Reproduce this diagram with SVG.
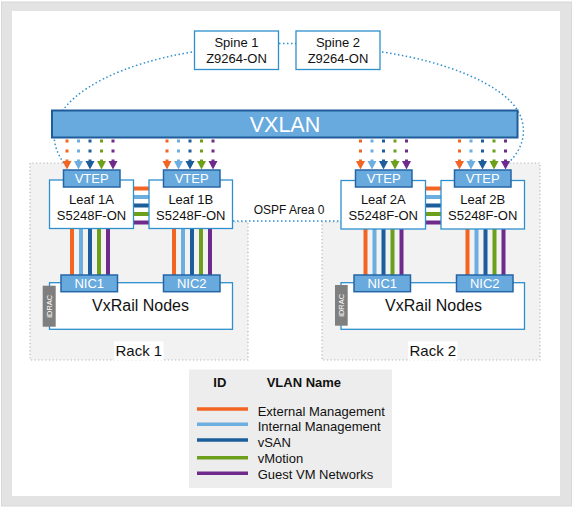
<svg xmlns="http://www.w3.org/2000/svg" xmlns:xlink="http://www.w3.org/1999/xlink" width="577" height="509" viewBox="0 0 577 509">
<style>
text{font-family:"Liberation Sans",Arial,sans-serif;fill:#111}
.o{stroke:#f26522;fill:#f26522}
.lb{stroke:#6caee0;fill:#6caee0}
.db{stroke:#1b5e9b;fill:#1b5e9b}
.g{stroke:#6c9f1a;fill:#6c9f1a}
.p{stroke:#6e2b8c;fill:#6e2b8c}
.dots line{stroke-width:3;stroke-dasharray:3 7}
g.heads use{stroke:none}
.link line{stroke-width:4}
.box{fill:#fff;stroke:#2f8fcd;stroke-width:1.3}
.vtep{fill:#68aadd;stroke:#2565a5;stroke-width:1.5}
.wt{fill:#fff;font-size:13px;text-anchor:middle}
.bt{font-size:13px;text-anchor:middle}
.ospf{fill:none;stroke:#2f8fcd;stroke-width:1.5;stroke-dasharray:1.5 2.5}
.rackfill{fill:#f2f2f2;stroke:none}
.rackedge{fill:none;stroke:#b5b5b5;stroke-width:1.2;stroke-dasharray:1.2 2.4}
.idrac{fill:#7f7f7f}
.idt{fill:#fff;font-size:7.5px;text-anchor:middle}
.leg line{stroke-width:3.5}
.legt{font-size:13px}
</style>
<defs>
<path id="ah" d="M-4.5,0 L4.5,0 L0,8.5 Z"/>
</defs>

<!-- frame -->
<rect x="1.5" y="2" width="570" height="504" fill="#e3e3e3" stroke="#d8d8d8" stroke-width="1"/>
<rect x="12" y="11" width="548" height="485" fill="#fff"/>

<!-- racks -->
<g id="rack1">
<path class="rackfill" d="M30,163 H66 V222 H248 V360 H30 Z"/>
<path class="rackedge" d="M66,163 H30 V360 H248 V222 H232"/>
</g>
<g id="rack2">
<path class="rackfill" d="M322,222 H506 V163 H540 V360 H322 Z"/>
<path class="rackedge" d="M341,222 H322 V360 H540 V163 H506"/>
</g>

<!-- connectors -->
<g id="connectors">
<path class="ospf" d="M192,52 C120,64 72,90 58,118 C50,135 55,152 66,166"/>
<path class="ospf" d="M382,52 C450,62 500,85 516,108 C528,125 526,148 506,165"/>
<line class="ospf" x1="279" y1="43.5" x2="296" y2="43.5"/>
<line class="ospf" x1="233" y1="221" x2="341" y2="221"/>

<g class="dots">
<line class="o" x1="67" y1="139.5" x2="67" y2="162"/>
<line class="lb" x1="78.5" y1="139.5" x2="78.5" y2="162"/>
<line class="db" x1="90" y1="139.5" x2="90" y2="162"/>
<line class="g" x1="101.5" y1="139.5" x2="101.5" y2="162"/>
<line class="p" x1="113" y1="139.5" x2="113" y2="162"/>
<line class="o" x1="167" y1="139.5" x2="167" y2="162"/>
<line class="lb" x1="178.5" y1="139.5" x2="178.5" y2="162"/>
<line class="db" x1="190" y1="139.5" x2="190" y2="162"/>
<line class="g" x1="201.5" y1="139.5" x2="201.5" y2="162"/>
<line class="p" x1="213" y1="139.5" x2="213" y2="162"/>
<line class="o" x1="360.5" y1="139.5" x2="360.5" y2="162"/>
<line class="lb" x1="372" y1="139.5" x2="372" y2="162"/>
<line class="db" x1="383.5" y1="139.5" x2="383.5" y2="162"/>
<line class="g" x1="395" y1="139.5" x2="395" y2="162"/>
<line class="p" x1="406.5" y1="139.5" x2="406.5" y2="162"/>
<line class="o" x1="459.5" y1="139.5" x2="459.5" y2="162"/>
<line class="lb" x1="471" y1="139.5" x2="471" y2="162"/>
<line class="db" x1="482.5" y1="139.5" x2="482.5" y2="162"/>
<line class="g" x1="494" y1="139.5" x2="494" y2="162"/>
<line class="p" x1="505.5" y1="139.5" x2="505.5" y2="162"/>
</g>
<g class="heads">
<use href="#ah" class="o" x="67" y="161"/>
<use href="#ah" class="lb" x="78.5" y="161"/>
<use href="#ah" class="db" x="90" y="161"/>
<use href="#ah" class="g" x="101.5" y="161"/>
<use href="#ah" class="p" x="113" y="161"/>
<use href="#ah" class="o" x="167" y="161"/>
<use href="#ah" class="lb" x="178.5" y="161"/>
<use href="#ah" class="db" x="190" y="161"/>
<use href="#ah" class="g" x="201.5" y="161"/>
<use href="#ah" class="p" x="213" y="161"/>
<use href="#ah" class="o" x="360.5" y="161"/>
<use href="#ah" class="lb" x="372" y="161"/>
<use href="#ah" class="db" x="383.5" y="161"/>
<use href="#ah" class="g" x="395" y="161"/>
<use href="#ah" class="p" x="406.5" y="161"/>
<use href="#ah" class="o" x="459.5" y="161"/>
<use href="#ah" class="lb" x="471" y="161"/>
<use href="#ah" class="db" x="482.5" y="161"/>
<use href="#ah" class="g" x="494" y="161"/>
<use href="#ah" class="p" x="505.5" y="161"/>
</g>

<g class="link">
<!-- inter-leaf -->
<line class="o" x1="133" y1="188.5" x2="149" y2="188.5"/>
<line class="lb" x1="133" y1="197" x2="149" y2="197"/>
<line class="db" x1="133" y1="205.5" x2="149" y2="205.5"/>
<line class="g" x1="133" y1="214" x2="149" y2="214"/>
<line class="p" x1="133" y1="222.5" x2="149" y2="222.5"/>
<line class="o" x1="425" y1="188.5" x2="441" y2="188.5"/>
<line class="lb" x1="425" y1="197" x2="441" y2="197"/>
<line class="db" x1="425" y1="205.5" x2="441" y2="205.5"/>
<line class="g" x1="425" y1="214" x2="441" y2="214"/>
<line class="p" x1="425" y1="222.5" x2="441" y2="222.5"/>
<!-- leaf to NIC -->
<line class="o" x1="72" y1="228" x2="72" y2="276"/>
<line class="lb" x1="81" y1="228" x2="81" y2="276"/>
<line class="db" x1="90" y1="228" x2="90" y2="276"/>
<line class="g" x1="99" y1="228" x2="99" y2="276"/>
<line class="p" x1="108" y1="228" x2="108" y2="276"/>
<line class="o" x1="174" y1="228" x2="174" y2="276"/>
<line class="lb" x1="183" y1="228" x2="183" y2="276"/>
<line class="db" x1="192" y1="228" x2="192" y2="276"/>
<line class="g" x1="201" y1="228" x2="201" y2="276"/>
<line class="p" x1="210" y1="228" x2="210" y2="276"/>
<line class="o" x1="365.5" y1="228" x2="365.5" y2="276"/>
<line class="lb" x1="374.5" y1="228" x2="374.5" y2="276"/>
<line class="db" x1="383.5" y1="228" x2="383.5" y2="276"/>
<line class="g" x1="392.5" y1="228" x2="392.5" y2="276"/>
<line class="p" x1="401.5" y1="228" x2="401.5" y2="276"/>
<line class="o" x1="467.5" y1="228" x2="467.5" y2="276"/>
<line class="lb" x1="476.5" y1="228" x2="476.5" y2="276"/>
<line class="db" x1="485.5" y1="228" x2="485.5" y2="276"/>
<line class="g" x1="494.5" y1="228" x2="494.5" y2="276"/>
<line class="p" x1="503.5" y1="228" x2="503.5" y2="276"/>
</g>
</g>

<!-- spines -->
<g id="spine1">
<rect class="box" x="194.5" y="31" width="84" height="38.5"/>
<text class="bt" x="236.5" y="47">Spine 1</text>
<text class="bt" x="236.5" y="62.5">Z9264-ON</text>
</g>
<g id="spine2">
<rect class="box" x="296" y="31" width="84" height="38.5"/>
<text class="bt" x="338" y="47">Spine 2</text>
<text class="bt" x="338" y="62.5">Z9264-ON</text>
</g>

<g id="vxlan">
<rect x="52" y="110.5" width="465.5" height="27" fill="#68aadd" stroke="#1f5d9a" stroke-width="2"/>
<text x="285" y="131.5" style="fill:#fff;font-size:21.5px;text-anchor:middle">VXLAN</text>
</g>

<text x="289" y="213.5" style="font-size:12px;text-anchor:middle">OSPF Area 0</text>

<!-- leaves -->
<g id="leaf1a">
<rect class="box" x="49.5" y="180" width="84" height="48.5"/>
<rect class="vtep" x="63.5" y="170" width="56.5" height="17"/>
<text class="wt" x="91.7" y="183">VTEP</text>
<text class="bt" x="91.5" y="204">Leaf 1A</text>
<text class="bt" x="91.5" y="219.5">S5248F-ON</text>
</g>
<g id="leaf1b">
<rect class="box" x="149" y="180" width="83.5" height="48.5"/>
<rect class="vtep" x="163.5" y="170" width="56.5" height="17"/>
<text class="wt" x="191.7" y="183">VTEP</text>
<text class="bt" x="190.8" y="204">Leaf 1B</text>
<text class="bt" x="190.8" y="219.5">S5248F-ON</text>
</g>
<g id="leaf2a">
<rect class="box" x="341" y="180.5" width="84.5" height="48.5"/>
<rect class="vtep" x="355.5" y="170" width="56.5" height="17"/>
<text class="wt" x="383.7" y="183">VTEP</text>
<text class="bt" x="383.3" y="204">Leaf 2A</text>
<text class="bt" x="383.3" y="219.5">S5248F-ON</text>
</g>
<g id="leaf2b">
<rect class="box" x="441" y="180.5" width="83.5" height="48.5"/>
<rect class="vtep" x="454.5" y="170" width="56.5" height="17"/>
<text class="wt" x="482.7" y="183">VTEP</text>
<text class="bt" x="482.7" y="204">Leaf 2B</text>
<text class="bt" x="482.7" y="219.5">S5248F-ON</text>
</g>

<!-- VxRail nodes -->
<g id="nodes1">
<rect class="box" x="49.5" y="282.7" width="183" height="46.6"/>
<rect class="vtep" x="61" y="275" width="56.5" height="16.7"/>
<text class="wt" x="89.3" y="288.3">NIC1</text>
<rect class="vtep" x="163.5" y="275" width="56.5" height="16.7"/>
<text class="wt" x="191.7" y="288.3">NIC2</text>
<text x="140.5" y="311" style="font-size:16px;text-anchor:middle">VxRail Nodes</text>
<rect class="idrac" x="42.7" y="285.7" width="13" height="41"/>
<text class="idt" transform="translate(51.9,306.2) rotate(-90)">iDRAC</text>
</g>
<g id="nodes2">
<rect class="box" x="341" y="282.7" width="183.5" height="46.6"/>
<rect class="vtep" x="354" y="275" width="56.5" height="16.7"/>
<text class="wt" x="382.2" y="288.3">NIC1</text>
<rect class="vtep" x="456.5" y="275" width="56.5" height="16.7"/>
<text class="wt" x="484.7" y="288.3">NIC2</text>
<text x="433.5" y="311" style="font-size:16px;text-anchor:middle">VxRail Nodes</text>
<rect class="idrac" x="335" y="285" width="12.7" height="40.7"/>
<text class="idt" transform="translate(344.1,305.3) rotate(-90)">iDRAC</text>
</g>

<g id="rack1label">
<rect x="114" y="341.5" width="49.5" height="19" fill="#fff"/>
<text x="138.8" y="356.3" style="font-size:15px;text-anchor:middle">Rack 1</text>
</g>
<g id="rack2label">
<rect x="408" y="341.5" width="49.5" height="19" fill="#fff"/>
<text x="432.8" y="356.3" style="font-size:15px;text-anchor:middle">Rack 2</text>
</g>

<!-- legend -->
<g id="legend" class="leg">
<rect x="189" y="369.5" width="203" height="118.5" fill="#ededed" stroke="none"/>
<text x="213.3" y="387" style="font-size:13px;font-weight:bold">ID</text>
<text x="266.7" y="387" style="font-size:13px;font-weight:bold">VLAN Name</text>
<line class="o" x1="197" y1="409" x2="248" y2="409"/>
<line class="lb" x1="197" y1="424.3" x2="248" y2="424.3"/>
<line class="db" x1="197" y1="440" x2="248" y2="440"/>
<line class="g" x1="197" y1="457.7" x2="248" y2="457.7"/>
<line class="p" x1="197" y1="473.3" x2="248" y2="473.3"/>
<text class="legt" x="257.7" y="415.7">External Management</text>
<text class="legt" x="257.7" y="431.3">Internal Management</text>
<text class="legt" x="257.7" y="447.3">vSAN</text>
<text class="legt" x="257.7" y="463.3">vMotion</text>
<text class="legt" x="257.7" y="479.3">Guest VM Networks</text>
</g>
</svg>
